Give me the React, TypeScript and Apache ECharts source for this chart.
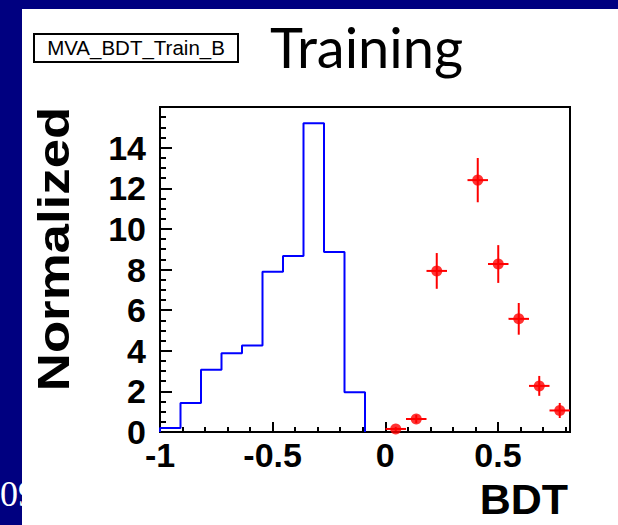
import React, { useEffect, useRef } from 'react';
import * as echarts from 'echarts';

// Histogram binning (BDT response)
const binLow = -1;
const binWidth = 0.091;
const nBins = 20;

// Background (blue histogram), normalized contents per bin
const backgroundValues = [0.2, 1.43, 3.06, 3.88, 4.26, 7.89, 8.66, 15.2, 8.86, 1.96, 0, 0, 0, 0, 0, 0, 0, 0, 0, 0];
// Signal (red points with errors), normalized contents per bin
const signalValues = [0, 0, 0, 0, 0, 0, 0, 0, 0, 0, 0, 0.15, 0.64, 7.93, 0, 12.4, 8.27, 5.57, 2.27, 1.06];
const signalErrors = [0, 0, 0, 0, 0, 0, 0, 0, 0, 0, 0, 0.1, 0.2, 0.88, 0, 1.09, 0.93, 0.78, 0.49, 0.37];

const xTickLabels = ['-1', '-0.5', '0', '0.5'];
const yTickLabels = ['0', '2', '4', '6', '8', '10', '12', '14'];

const yMax = 16;

export default function App() {
  const ref = useRef<HTMLDivElement>(null);

  useEffect(() => {
    document.body.style.margin = '0';
    if (!ref.current) return;
    const chart = echarts.init(ref.current, null, { renderer: 'svg' });

    const xMax = +(binLow + nBins * binWidth).toFixed(3);

    // step outline of the background histogram
    let last = backgroundValues.length - 1;
    while (last > 0 && backgroundValues[last] === 0) last--;
    const stepPts: number[][] = [[binLow, 0]];
    for (let i = 0; i <= last; i++) {
      const lo = binLow + i * binWidth;
      const hi = lo + binWidth;
      stepPts.push([lo, backgroundValues[i]]);
      stepPts.push([hi, backgroundValues[i]]);
    }
    stepPts.push([binLow + (last + 1) * binWidth, 0]);

    const sigPts: number[][] = [];
    const sigErr: number[][] = [];
    signalValues.forEach((v, i) => {
      if (v > 0) {
        const c = binLow + (i + 0.5) * binWidth;
        sigPts.push([c, v]);
        sigErr.push([c, v, signalErrors[i]]);
      }
    });

    const option: any = {
      animation: false,
      backgroundColor: '#000080',
      grid: {
        left: 160,
        right: 48,
        top: 107,
        bottom: 93,
        show: true,
        borderColor: '#000',
        borderWidth: 2,
        backgroundColor: 'transparent',
      },
      xAxis: {
        type: 'value',
        min: binLow,
        max: xMax,
        interval: 0.5,
        axisLine: { onZero: false, lineStyle: { color: '#000', width: 2 } },
        axisTick: { inside: true, length: 10, lineStyle: { color: '#000', width: 2 } },
        minorTick: { show: true, splitNumber: 5, length: 5, lineStyle: { color: '#000', width: 2 } },
        splitLine: { show: false },
        axisLabel: {
          margin: 6,
          color: '#000',
          fontFamily: 'Liberation Sans',
          fontWeight: 'bold',
          fontSize: 34,
          showMaxLabel: false,
          formatter: (v: number) => {
            const s = String(+v.toFixed(2));
            return xTickLabels.includes(s) ? s : '';
          },
        },
      },
      yAxis: {
        type: 'value',
        min: 0,
        max: yMax,
        interval: 2,
        axisLine: { show: true, onZero: false, lineStyle: { color: '#000', width: 2 } },
        axisTick: { show: true, inside: true, length: 12, lineStyle: { color: '#000', width: 2 } },
        minorTick: { show: true, splitNumber: 4, length: 6, lineStyle: { color: '#000', width: 2 } },
        splitLine: { show: false },
        axisLabel: {
          margin: 14,
          color: '#000',
          fontFamily: 'Liberation Sans',
          fontWeight: 'bold',
          fontSize: 34,
          padding: [4, 0, 0, 0],
          formatter: (v: number) => {
            const s = String(v);
            return yTickLabels.includes(s) ? s : '';
          },
        },
      },
      series: [
        {
          type: 'line',
          data: stepPts,
          showSymbol: false,
          symbol: 'none',
          lineStyle: { color: '#0000ff', width: 2 },
          z: 3,
        },
        {
          type: 'custom',
          data: sigErr,
          z: 4,
          renderItem: (_p: any, api: any) => {
            const x = api.value(0);
            const y = api.value(1);
            const e = api.value(2);
            const l = api.coord([x - binWidth / 2, y]);
            const r = api.coord([x + binWidth / 2, y]);
            const t = api.coord([x, y + e]);
            const b = api.coord([x, y - e]);
            const style = { stroke: '#ff0000', lineWidth: 2 };
            return {
              type: 'group',
              children: [
                { type: 'line', shape: { x1: l[0], y1: l[1], x2: r[0], y2: r[1] }, style },
                { type: 'line', shape: { x1: t[0], y1: t[1], x2: b[0], y2: b[1] }, style },
              ],
            };
          },
        },
        {
          type: 'scatter',
          data: sigPts,
          symbol: 'circle',
          symbolSize: 11,
          itemStyle: { color: '#ff0000' },
          z: 5,
        },
      ],
      graphic: [
        {
          type: 'text',
          z: -20,
          x: 0,
          y: 494,
          style: {
            text: '09',
            font: '36px "Liberation Serif"',
            fill: '#ffffff',
            textAlign: 'left',
            textVerticalAlign: 'middle',
          },
        },
        {
          type: 'rect',
          z: -10,
          shape: { x: 22, y: 9, width: 596, height: 516 },
          style: { fill: '#ffffff' },
        },
        {
          type: 'rect',
          shape: { x: 34, y: 34, width: 204, height: 28 },
          style: { fill: '#ffffff', stroke: '#000', lineWidth: 2 },
        },
        {
          type: 'text',
          x: 136,
          y: 47,
          style: {
            text: 'MVA_BDT_Train_B',
            font: '20.5px "Liberation Sans"',
            fill: '#000',
            textAlign: 'center',
            textVerticalAlign: 'middle',
          },
        },
        {
          type: 'text',
          x: 270,
          y: 46,
          style: {
            text: 'Training',
            font: '56px Lato',
            fill: '#000',
            textAlign: 'left',
            textVerticalAlign: 'middle',
          },
        },
        {
          type: 'text',
          x: 54,
          y: 249,
          rotation: Math.PI / 2,
          scaleX: 1.2,
          style: {
            text: 'Normalized',
            font: 'bold 44px "Liberation Sans"',
            fill: '#000',
            textAlign: 'center',
            textVerticalAlign: 'middle',
          },
        },
        {
          type: 'text',
          x: 568,
          y: 499,
          style: {
            text: 'BDT',
            font: 'bold 43px "Liberation Sans"',
            fill: '#000',
            textAlign: 'right',
            textVerticalAlign: 'middle',
          },
        },
      ],
    };

    chart.setOption(option);
    return () => chart.dispose();
  }, []);

  return <div ref={ref} style={{ width: 618, height: 525 }} />;
}
